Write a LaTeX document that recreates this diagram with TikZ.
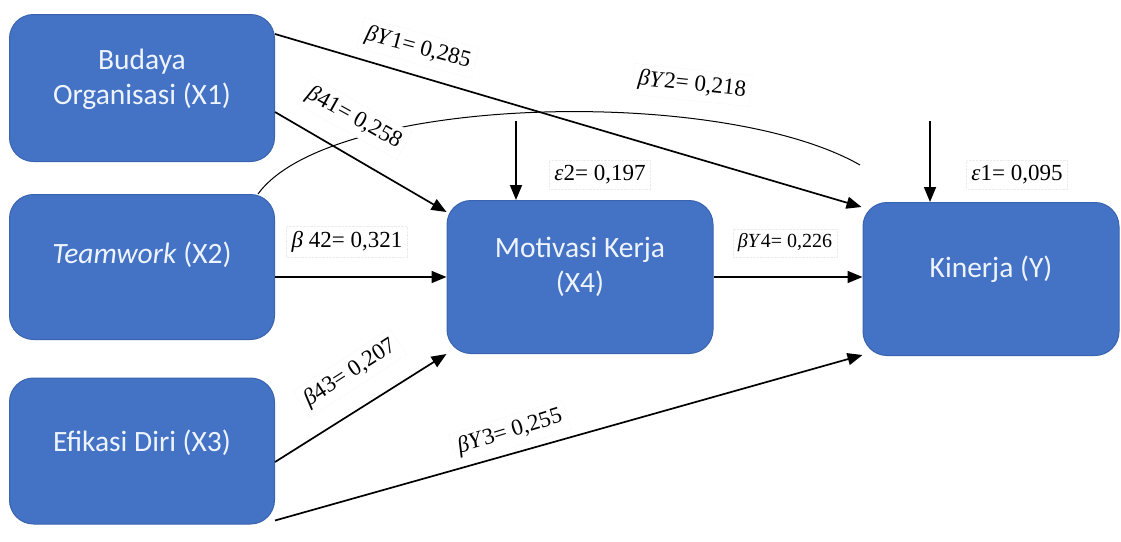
\documentclass[tikz,border=0pt]{standalone}
\usepackage{fontspec}
\newfontfamily\kastenfont{Carlito}
\newfontfamily\wertfont{Liberation Serif}
\usetikzlibrary{calc,arrows.meta}
\definecolor{kastenblau}{HTML}{4472C4}
\definecolor{kastenrand}{HTML}{3A64B0}
\definecolor{schrift}{HTML}{EEF4FF}
\tikzset{
  kasten/.style={draw=kastenrand, line width=1pt, fill=kastenblau, rounded corners=24pt,
    minimum width=265pt, minimum height=147pt, inner sep=0pt},
  kastentext/.style={text=schrift, font=\kastenfont\fontsize{29.5}{35}\selectfont, align=center},
  pfeil/.style={line width=1.7pt, -{Triangle[length=15pt,width=12pt]}},
  bogen/.style={line width=1pt},
  wert/.style={fill=white, draw=black!8, densely dotted, inner sep=5pt,
    font=\wertfont\fontsize{23}{26}\selectfont},
}

\begin{document}
\begin{tikzpicture}[x=1pt,y=-1pt] % 1pt = 1 Pixel, y nach unten
\useasboundingbox (0,0) rectangle (1121,541);

%KASTEN X1 (links oben)
\node [kasten] (bo) at (142,88) {};
\node [kastentext] (bo-t) at ($(bo)+(0,-9)$) {Budaya\\Organisasi (X1)};

%KASTEN X2 (links Mitte)
\node [kasten, minimum height=145pt] (tw) at (142,267) {};
\node [kastentext] (tw-t) at ($(tw)+(0,-12)$) {\textit{Teamwork} (X2)};

%KASTEN X3 (links unten)
\node [kasten, minimum height=146pt] (ed) at (142,451) {};
\node [kastentext] (ed-t) at ($(ed)+(0,-8)$) {Efikasi Diri (X3)};

%KASTEN X4 (Mitte)
\node [kasten, minimum width=266pt, minimum height=153pt] (mk) at (580,277) {};
\node [kastentext] (mk-t) at ($(mk)+(0,-10)$) {Motivasi Kerja\\(X4)};

%KASTEN Y (rechts)
\node [kasten, minimum width=256pt, minimum height=153pt] (kin) at (991,279) {};
\node [kastentext] (kin-t) at ($(kin)+(0,-10)$) {Kinerja (Y)};




%PFEILE
\draw [pfeil] ([yshift=-20pt]bo.north east) -- ([xshift=-1pt,yshift=-5pt]kin.north west);
\draw [pfeil] ([yshift=-98pt]bo.north east) -- ([yshift=-12pt]mk.north west);
\draw [pfeil] (tw.east |- mk.west) -- (mk.west);
\draw [pfeil] ([yshift=-11pt]ed.east) -- (mk.south west);
\draw [pfeil] ([yshift=4pt]ed.south east) -- ([yshift=1pt]kin.south west);
\draw [pfeil] (mk.east) -- (mk.east -| kin.west);

%FEHLERTERME
\coordinate (e2) at (516,121);
\coordinate (e1) at (930,121);
\draw [pfeil] (e2) -- (e2 |- mk.north);
\draw [pfeil] (e1) -- (e1 |- kin.north);

%BOGEN X2 (ohne Spitze)
\coordinate (bogenende) at (860,165);
\draw [bogen] ([xshift=-17pt]tw.north east) .. controls (330,95) and (720,85) .. (bogenende);




%WERTE
\node [wert, rotate=-15] (w-y1) at (418,48) {\textit{βY}1= 0,285};
\node [wert, rotate=-6] (w-y2) at (692,85) {\textit{βY}2= 0,218};
\node [wert, rotate=-29] (w-41) at (354,118) {\textit{β}41= 0,258};
\node [wert] (w-e2) at (600,175) {\textit{ε}2= 0,197};
\node [wert] (w-e1) at (1017,175) {\textit{ε}1= 0,095};
\node [wert] (w-42) at (347,242) {\textit{β} 42= 0,321};
\node [wert, font=\wertfont\fontsize{20}{24}\selectfont] (w-y4) at (785,243) {\textit{βY}4= 0,226};
\node [wert, rotate=33] (w-43) at (350,373) {\textit{β}43= 0,207};
\node [wert, rotate=17] (w-y3) at (510,432) {\textit{βY}3= 0,255};

\end{tikzpicture}
\end{document}
